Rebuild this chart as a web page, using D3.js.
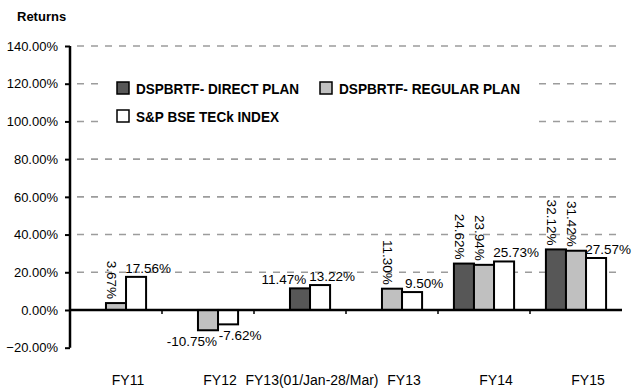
<!DOCTYPE html>
<html>
<head>
<meta charset="utf-8">
<script src="https://cdn.jsdelivr.net/npm/d3@7"></script>
<style>
  html, body { margin: 0; padding: 0; background: #fff; }
  svg { display: block; }
</style>
</head>
<body>
<svg id="chart" width="635" height="388"></svg>
<script>
// Fund returns by financial year
const categories = ["FY11", "FY12", "FY13(01/Jan-28/Mar)", "FY13", "FY14", "FY15"];
const seriesNames = ["DSPBRTF- DIRECT PLAN", "DSPBRTF- REGULAR PLAN", "S&P BSE TECk INDEX"];
const directPlan  = [null, null, 11.47, null, 24.62, 32.12];
const regularPlan = [3.67, -10.75, null, 11.30, 23.94, 31.42];
const tecKIndex   = [17.56, -7.62, 13.22, 9.50, 25.73, 27.57];
const yTicks = [-20, 0, 20, 40, 60, 80, 100, 120, 140];

const seriesValues = [directPlan, regularPlan, tecKIndex];
const fills = ["#575757", "#c0c0c0", "#ffffff"];
const FONT = "'Liberation Sans', Arial, sans-serif";

const svg = d3.select("#chart").attr("font-family", FONT);
const plotL = 70, plotR = 622, plotT = 46, plotB = 347.7;

const x = d3.scaleBand().domain(categories).range([plotL, plotR]).padding(0);
const y = d3.scaleLinear().domain([-20, 140]).range([plotB, plotT]);
const barW = x.bandwidth() * 0.218;

// title
svg.append("text").attr("x", 17).attr("y", 21)
  .attr("font-size", 13).attr("font-weight", "bold").text("Returns");

// dashed gridlines
svg.append("g").selectAll("line")
  .data(yTicks.filter(t => t > 0))
  .join("line")
  .attr("x1", plotL).attr("x2", plotR)
  .attr("y1", d => y(d)).attr("y2", d => y(d))
  .attr("stroke", "#9c9c9c").attr("stroke-width", 1.6)
  .attr("stroke-dasharray", "7,7").attr("stroke-dashoffset", 7);

// y axis
const yAxis = svg.append("g").attr("transform", `translate(${plotL},0)`)
  .call(d3.axisLeft(y).tickValues(yTicks).tickSize(5).tickPadding(7)
    .tickFormat(d => d3.format(".2f")(d) + "%"));
yAxis.attr("font-family", FONT);
yAxis.select(".domain").attr("stroke", "#000").attr("stroke-width", 2.5)
  .attr("d", `M0,${y(140)}V${y(-20)}`);
yAxis.selectAll(".tick line").attr("stroke", "#000").attr("stroke-width", 2);
yAxis.selectAll(".tick text").attr("font-size", 13).attr("fill", "#000");

// legend
const lg = svg.append("g");
lg.append("rect").attr("x", 100).attr("y", 71).attr("width", 438).attr("height", 57).attr("fill", "#fff");
const legendPos = [[117, 82], [320, 82], [117, 110]];
const legendTextLen = [163, 181, 143];
seriesNames.forEach((name, i) => {
  const [lx, ly] = legendPos[i];
  lg.append("rect").attr("x", lx).attr("y", ly).attr("width", 12).attr("height", 12)
    .attr("fill", fills[i]).attr("stroke", "#000").attr("stroke-width", 1.5);
  lg.append("text").attr("x", lx + 19).attr("y", ly + 12)
    .attr("font-size", 15).attr("font-weight", "bold")
    .attr("textLength", legendTextLen[i]).attr("lengthAdjust", "spacingAndGlyphs")
    .text(name);
});

// bars and value labels; the bars present in a year sit at the right of the group
const bars = svg.append("g");
const labels = svg.append("g").attr("font-size", 13.5);
categories.forEach((cat, i) => {
  const present = seriesValues.map((arr, s) => ({ s, v: arr[i] })).filter(d => d.v != null);
  const cx = x(cat) + x.bandwidth() / 2;
  const groupRight = cx + barW * seriesValues.length / 2;
  const inner = d3.scaleBand().domain(present.map(d => d.s))
    .range([groupRight - barW * present.length, groupRight]);
  const hasRegular = present.some(d => d.s === 1);

  present.forEach(d => {
    const bx = inner(d.s);
    const y0 = y(Math.max(0, d.v)), y1 = y(Math.min(0, d.v));
    bars.append("rect").attr("x", bx).attr("y", y0)
      .attr("width", inner.bandwidth()).attr("height", y1 - y0)
      .attr("fill", fills[d.s]).attr("stroke", "#000").attr("stroke-width", 2);

    const txt = d.v.toFixed(2) + "%";
    const bc = bx + inner.bandwidth() / 2;
    const vertical = d.v > 0 && (d.s === 1 || (d.s === 0 && hasRegular));
    if (vertical) {
      labels.append("text")
        .attr("transform", `translate(${bc - 9},${y(d.v) - 4}) rotate(90)`)
        .attr("text-anchor", "end").text(txt);
    } else {
      const dx = d.s === 2 ? 12 : -16;
      labels.append("text")
        .attr("x", bc + dx)
        .attr("y", d.v >= 0 ? y(d.v) - 4 : y(d.v) + 16)
        .attr("text-anchor", "middle").text(txt);
    }
  });
});

// zero line with category ticks
const xAxis = svg.append("g").attr("transform", `translate(0,${y(0)})`)
  .call(d3.axisBottom(x).tickSize(0).tickFormat(""));
xAxis.select(".domain").attr("stroke", "#000").attr("stroke-width", 2.5)
  .attr("d", `M${plotL},0H${plotR}`);
svg.append("g").selectAll("line")
  .data(categories.slice(1))
  .join("line")
  .attr("x1", d => x(d)).attr("x2", d => x(d))
  .attr("y1", y(0)).attr("y2", y(0) + 4)
  .attr("stroke", "#000").attr("stroke-width", 1.5);

// category labels
svg.append("g").selectAll("text")
  .data(categories)
  .join("text")
  .attr("x", d => x(d) + x.bandwidth() / 2 + 12)
  .attr("y", 385)
  .attr("text-anchor", "middle").attr("font-size", 14)
  .text(d => d);
</script>
</body>
</html>
